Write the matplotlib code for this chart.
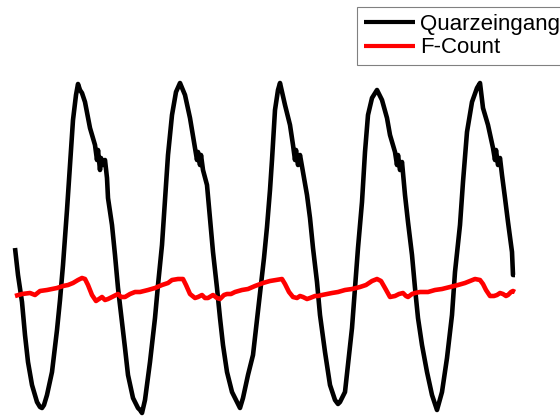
import matplotlib
matplotlib.use("Agg")
import matplotlib.pyplot as plt

plt.rcParams['font.family'] = ['Liberation Sans', 'DejaVu Sans']

# Quarzeingang (black trace): time samples and amplitude (arbitrary units)
quarz_t = [15, 18, 22, 25, 28, 32, 37, 40, 42, 44, 47, 52, 57, 60, 63, 67, 70, 73, 76, 78,
           80, 82, 85, 90, 95, 97, 98, 100, 101, 103, 105, 107, 108, 112, 115, 118, 122, 125, 128, 133,
           138, 140, 142, 145, 150, 155, 158, 162, 165, 168, 172, 176, 180, 185, 190, 195, 197, 198, 200, 201,
           203, 207, 210, 213, 217, 220, 223, 227, 232, 237, 240, 243, 248, 253, 257, 260, 264, 267, 270, 272,
           275, 278, 280, 285, 290, 293, 295, 296, 298, 300, 303, 307, 310, 313, 317, 320, 325, 330, 335, 338,
           340, 345, 348, 352, 355, 358, 362, 365, 368, 372, 377, 382, 387, 390, 395, 397, 398, 400, 402, 405,
           408, 412, 415, 418, 422, 427, 432, 437, 442, 447, 452, 455, 460, 463, 467, 472, 477, 480, 483, 488,
           493, 495, 496, 498, 500, 502, 505, 508, 512, 513, 515]
quarz_v = [52, 25, -2, -35, -62, -85, -102, -107, -108, -105, -95, -72, -30, 0, 35, 90, 135, 180, 205, 216,
           210, 207, 198, 172, 155, 140, 150, 130, 142, 135, 140, 122, 102, 75, 45, 12, -22, -48, -75, -98,
           -108, -110, -113, -100, -62, -18, 15, 55, 100, 145, 185, 208, 217, 205, 182, 152, 140, 148, 135, 145,
           130, 115, 82, 48, 12, -18, -45, -72, -92, -102, -108, -98, -75, -55, -20, 7, 42, 73, 110, 140,
           190, 210, 217, 195, 175, 155, 140, 150, 135, 145, 128, 105, 82, 52, 18, -15, -52, -85, -100, -104,
           -102, -92, -65, -28, 12, 52, 98, 148, 185, 202, 210, 200, 182, 165, 148, 135, 145, 130, 138, 105,
           78, 45, 12, -18, -45, -72, -95, -110, -92, -58, -15, 28, 75, 118, 168, 198, 212, 217, 192, 175,
           152, 140, 150, 135, 142, 125, 102, 78, 48, 25, 25]

# F-Count (red trace)
fcount_t = [15, 22, 30, 35, 40, 47, 52, 57, 63, 68, 73, 78, 82, 85, 88, 92, 96, 99, 102, 105,
            108, 112, 118, 121, 125, 130, 135, 140, 148, 155, 162, 168, 172, 178, 183, 186, 190, 195, 198, 202,
            205, 208, 213, 217, 220, 224, 227, 231, 235, 242, 248, 255, 263, 270, 276, 282, 285, 289, 293, 297,
            300, 303, 307, 310, 315, 318, 322, 327, 332, 338, 345, 352, 360, 366, 372, 377, 381, 385, 390, 395,
            399, 403, 406, 408, 412, 415, 420, 428, 435, 442, 450, 458, 465, 470, 475, 480, 483, 486, 490, 494,
            497, 500, 503, 506, 508, 511, 513, 515]
fcount_v = [4, 6, 7, 5, 9, 10, 11, 12, 14, 15, 17, 20, 22, 21, 15, 5, -1, 1, 3, 0,
            1, 3, 6, 3, 3, 6, 8, 8, 10, 12, 15, 17, 20, 21, 21, 15, 6, 2, 3, 5,
            2, 2, 5, 2, 1, 5, 6, 6, 8, 10, 11, 14, 17, 19, 20, 21, 16, 8, 3, 2,
            4, 3, 1, 2, 4, 4, 5, 6, 7, 8, 10, 11, 13, 15, 19, 21, 19, 12, 3, 4,
            6, 7, 4, 3, 6, 7, 8, 8, 10, 11, 13, 15, 17, 19, 21, 20, 16, 10, 4, 4,
            5, 7, 6, 4, 5, 8, 9, 8]

series_labels = ["Quarzeingang", "F-Count"]

fig = plt.figure(figsize=(5.6, 4.16), dpi=100)
ax = fig.add_axes([0, 0, 1, 1])
ax.plot(quarz_t, quarz_v, color='#000000', lw=3.3, solid_joinstyle='round',
        solid_capstyle='butt', label=series_labels[0])
ax.plot(fcount_t, fcount_v, color='#ff0000', lw=3.3, solid_joinstyle='round',
        solid_capstyle='butt', label=series_labels[1])
ax.set_xlim(0, 560)
ax.set_ylim(-116, 300)
ax.axis('off')

leg = ax.legend(loc='upper left', bbox_to_anchor=(357 / 560, 1 - 7 / 416),
                bbox_transform=fig.transFigure, borderaxespad=0,
                fontsize=16, handlelength=2.3, handletextpad=0.25,
                borderpad=0.3, labelspacing=0.12, fancybox=False,
                framealpha=1, edgecolor='#808080')
leg.get_frame().set_linewidth(0.8)
for line in leg.get_lines():
    line.set_linewidth(3.0)

fig.savefig('out.png', dpi=100)
